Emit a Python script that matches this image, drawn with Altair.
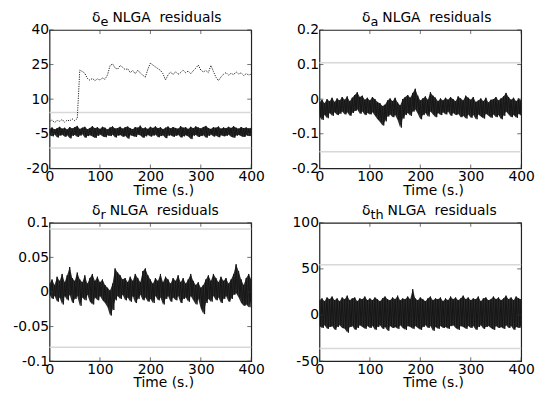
import altair as alt
import pandas as pd

# ---------------- data ----------------
TIME = list(range(0, 401, 5))          # sample grid, seconds
X_TICKS = [0, 100, 200, 300, 400]

# delta_e panel: solid residual band (upper / lower envelope) and dotted faulty residual
UPPER_E = [-2.9, -2.3, -3.1, -2.6, -2.0, -2.8, -2.4, -3.2, -2.1, -2.7,
           -2.2, -1.6, -2.9, -2.4, -2.0, -3.0, -2.5, -1.7, -2.6, -2.2,
           -2.9, -2.0, -2.4, -3.2, -2.3, -1.8, -2.7, -2.5, -2.0, -2.8,
           -2.2, -1.9, -2.6, -3.0, -2.1, -2.4, -1.5, -2.7, -2.3, -2.9,
           -2.0, -2.5, -1.8, -2.6, -2.2, -3.0, -2.4, -1.9, -2.7, -2.1,
           -2.5, -2.8, -1.7, -2.4, -2.2, -2.9, -2.0, -2.6, -1.8, -2.3,
           -2.7, -2.1, -1.6, -2.5, -2.9, -2.2, -2.4, -1.9, -2.8, -2.3,
           -2.6, -2.0, -2.5, -1.7, -2.4, -2.8, -2.1, -2.6, -2.3, -2.7,
           -2.4]
LOWER_E = [-5.6, -6.1, -5.3, -6.6, -5.8, -5.4, -6.3, -5.7, -7.0, -5.9,
           -5.5, -6.4, -5.8, -5.2, -6.7, -6.0, -5.6, -6.2, -6.8, -5.9,
           -5.3, -6.1, -6.5, -5.7, -6.0, -5.4, -6.6, -5.8, -5.5, -6.3,
           -5.9, -7.1, -5.6, -6.0, -6.4, -5.3, -5.8, -6.7, -6.1, -5.5,
           -6.2, -5.8, -5.4, -6.5, -6.0, -5.7, -6.9, -5.8, -5.6, -6.3,
           -5.9, -5.4, -6.6, -6.1, -5.7, -6.2, -7.3, -5.8, -5.5, -6.4,
           -6.0, -5.6, -6.7, -5.9, -5.3, -6.2, -5.8, -6.5, -5.6, -6.1,
           -5.9, -5.4, -6.3, -6.7, -5.8, -5.5, -6.1, -6.4, -5.7, -6.0,
           -5.8]
DOT_E = [0.3, 1.0, -0.2, 0.8, 0.4, 1.2, 0.0, 0.9, 0.6, 1.4,
         0.7, 1.6, 22.6, 22.0, 21.2, 19.0, 18.2, 19.0, 18.0, 18.8,
         18.3, 19.2, 18.6, 20.5, 24.5, 25.3, 23.5, 23.0, 24.6, 23.8,
         22.8, 23.2, 21.5, 22.4, 21.0, 22.6, 21.3, 20.4, 19.5, 23.0,
         25.6, 24.8, 24.0, 23.2, 22.5, 21.0, 18.3, 20.5, 21.8, 20.6,
         21.9, 20.8, 21.5, 22.6, 21.4, 22.2, 21.0, 22.3, 23.4, 24.8,
         22.6, 21.8, 22.4, 21.5, 24.6, 22.0, 19.5, 18.0, 19.6, 20.8,
         21.5, 20.4, 21.2, 20.6, 21.8, 20.9, 21.4, 20.3, 21.0, 20.5,
         20.8]
THR_E = [4.2, -11.2]

# delta_a panel
UPPER_A = [-0.010, -0.002, -0.012, 0.000, -0.006, 0.004, -0.008, 0.002, -0.004, 0.006,
           -0.002, 0.008, -0.006, 0.004, 0.012, 0.020, 0.006, 0.010, -0.002, 0.004,
           -0.004, 0.006, 0.000, -0.008, -0.012, -0.020, -0.016, -0.004, 0.002, -0.006,
           0.004, -0.010, -0.018, 0.000, 0.006, 0.012, 0.004, 0.018, 0.030, 0.010,
           -0.004, 0.002, 0.008, -0.002, 0.020, 0.010, 0.004, -0.006, 0.002, -0.004,
           0.004, -0.002, 0.006, 0.000, -0.006, 0.008, 0.002, -0.004, 0.010, 0.004,
           -0.002, 0.006, -0.008, -0.004, 0.002, -0.006, 0.004, -0.010, -0.002, 0.000,
           0.006, -0.004, 0.002, 0.008, 0.018, 0.006, -0.002, 0.004, -0.006, 0.002,
           -0.004]
LOWER_A = [-0.050, -0.060, -0.045, -0.055, -0.040, -0.048, -0.038, -0.046, -0.042, -0.036,
           -0.044, -0.038, -0.048, -0.040, -0.034, -0.030, -0.042, -0.036, -0.046, -0.040,
           -0.044, -0.038, -0.048, -0.058, -0.066, -0.076, -0.064, -0.050, -0.044, -0.052,
           -0.046, -0.060, -0.082, -0.056, -0.046, -0.040, -0.048, -0.036, -0.030, -0.042,
           -0.058, -0.046, -0.040, -0.050, -0.036, -0.044, -0.052, -0.040, -0.046, -0.038,
           -0.044, -0.036, -0.048, -0.040, -0.046, -0.042, -0.052, -0.048, -0.056, -0.044,
           -0.054, -0.046, -0.058, -0.044, -0.050, -0.056, -0.042, -0.048, -0.054, -0.044,
           -0.052, -0.046, -0.058, -0.048, -0.036, -0.044, -0.052, -0.046, -0.054, -0.042,
           -0.048]
THR_A = [0.105, -0.152]

# delta_r panel
UPPER_R = [0.012, 0.018, 0.010, 0.022, 0.016, 0.026, 0.014, 0.024, 0.036, 0.020,
           0.016, 0.028, 0.018, 0.014, 0.024, 0.012, 0.020, 0.026, 0.016, 0.022,
           0.014, 0.018, 0.010, 0.006, 0.002, 0.012, 0.034, 0.028, 0.024, 0.018,
           0.020, 0.014, 0.022, 0.016, 0.026, 0.020, 0.014, 0.030, 0.034, 0.024,
           0.018, 0.012, 0.020, 0.016, 0.026, 0.014, 0.022, 0.018, 0.012, 0.020,
           0.016, 0.024, 0.014, 0.020, 0.012, 0.018, 0.026, 0.016, 0.010, 0.014,
           0.006, 0.010, 0.018, 0.024, 0.016, 0.026, 0.020, 0.014, 0.022, 0.016,
           0.020, 0.012, 0.018, 0.026, 0.040, 0.030, 0.018, 0.010, 0.020, 0.026,
           0.018]
LOWER_R = [-0.004, -0.010, -0.006, -0.014, -0.008, -0.018, -0.006, -0.012, -0.004, -0.016,
           -0.010, -0.006, -0.020, -0.008, -0.012, -0.004, -0.014, -0.018, -0.008, -0.012,
           -0.006, -0.012, -0.016, -0.022, -0.034, -0.026, -0.012, -0.006, -0.010, -0.004,
           -0.012, -0.008, -0.014, -0.006, -0.016, -0.010, -0.004, -0.012, -0.008, -0.014,
           -0.010, -0.016, -0.006, -0.012, -0.008, -0.018, -0.010, -0.006, -0.014, -0.008,
           -0.012, -0.006, -0.016, -0.010, -0.008, -0.014, -0.006, -0.012, -0.018, -0.010,
           -0.024, -0.032, -0.016, -0.010, -0.014, -0.006, -0.012, -0.008, -0.016, -0.010,
           -0.006, -0.014, -0.010, -0.004, -0.002, -0.008, -0.016, -0.020, -0.018, -0.022,
           -0.012]
THR_R = [0.091, -0.080]

# delta_th panel
UPPER_TH = [16, 18, 15, 19, 17, 20, 16, 18, 15, 19,
            17, 21, 16, 18, 19, 15, 18, 17, 20, 16,
            18, 16, 19, 17, 15, 18, 20, 17, 16, 19,
            17, 21, 16, 18, 17, 20, 17, 28, 18, 16,
            19, 17, 15, 18, 20, 16, 18, 17, 19, 15,
            18, 16, 20, 17, 19, 16, 18, 21, 17, 19,
            16, 18, 17, 20, 15, 18, 19, 16, 17, 20,
            17, 19, 16, 18, 21, 17, 19, 16, 20, 18,
            17]
LOWER_TH = [-12, -14, -11, -15, -13, -12, -16, -13, -11, -14,
            -15, -19, -13, -12, -16, -14, -11, -13, -15, -12,
            -14, -12, -16, -13, -11, -15, -13, -17, -12, -14,
            -13, -15, -11, -14, -16, -12, -13, -15, -12, -14,
            -16, -13, -11, -14, -12, -17, -13, -15, -12, -14,
            -13, -15, -12, -11, -14, -16, -12, -13, -15, -12,
            -14, -12, -16, -13, -11, -15, -13, -12, -14, -16,
            -12, -14, -13, -15, -11, -14, -12, -16, -13, -14,
            -12]
THR_TH = [54.6, -36.2]

TITLE_REST = "NLGA\u00a0\u00a0residuals"
FONT = "DejaVu Sans"
W, H = 204, 140
BAND_COLOR = "#161616"


def zigzag(upper, lower):
    rows = []
    for i, (u, l) in enumerate(zip(upper, lower)):
        rows.append({"t": TIME[i], "v": u})
        if i < len(TIME) - 1:
            rows.append({"t": TIME[i] + 2.5, "v": l})
    return pd.DataFrame(rows)


def text_piece(s, x, y, size):
    return alt.Chart(pd.DataFrame({"s": [s]})).mark_text(
        font=FONT, fontSize=size, align="left", baseline="alphabetic", color="black"
    ).encode(text="s:N", x=alt.value(x), y=alt.value(y))


def panel(sub, sub_w, y_domain, y_ticks, thr, upper, lower, dotted=None):
    xs = alt.Scale(domain=[0, 400], nice=False)
    ys = alt.Scale(domain=y_domain, nice=False, zero=False)
    x_axis = alt.Axis(values=X_TICKS, title="Time (s.)", grid=False, ticks=False, tickSize=0,
                      domain=False, labelFont=FONT, labelFontSize=14, labelColor="black",
                      labelPadding=1, labelFlush=False, labelOverlap=False,
                      titleFont=FONT, titleFontSize=14,
                      titleFontWeight=400, titleColor="black", titleX=W / 2 + 13,
                      titleY=26, titleBaseline="alphabetic")
    y_axis = alt.Axis(values=y_ticks, title=None, grid=False, ticks=False, tickSize=0,
                      domain=False, labelFont=FONT, labelFontSize=14, labelColor="black",
                      labelPadding=1, labelFlush=False, labelOverlap=False,
                      labelExpr="'' + datum.value",
                      minExtent=41, maxExtent=41)

    def X(field):
        return alt.X(field, scale=xs, axis=x_axis, title="Time (s.)")

    def Y(field):
        return alt.Y(field, scale=ys, axis=y_axis, title=None)

    thr_df = pd.DataFrame({"v": thr})
    rules = alt.Chart(thr_df).mark_rule(color="#d8d8d8", strokeWidth=1.5).encode(y=Y("v:Q"))

    env_df = pd.DataFrame({"t": TIME, "hi": upper, "lo": lower})
    area = alt.Chart(env_df).mark_area(color=BAND_COLOR, opacity=0.9, clip=True).encode(
        x=X("t:Q"), y=Y("hi:Q"), y2="lo:Q")
    band = alt.Chart(zigzag(upper, lower)).mark_line(
        color=BAND_COLOR, strokeWidth=1, clip=True).encode(x=X("t:Q"), y=Y("v:Q"))
    layers = [rules, area, band]
    if dotted is not None:
        dot_df = pd.DataFrame({"t": TIME, "v": dotted})
        layers.append(alt.Chart(dot_df).mark_line(
            color="#222222", strokeWidth=1, strokeDash=[1.2, 1.2], clip=True).encode(
            x=X("t:Q"), y=Y("v:Q")))

    # MATLAB-style inward tick marks on all four sides
    xt = pd.DataFrame({"t": X_TICKS})
    yt = pd.DataFrame({"v": y_ticks})
    for yy in (2, H - 2):
        layers.append(alt.Chart(xt).mark_tick(color="#333333", thickness=1, size=4).encode(
            x=X("t:Q"), y=alt.value(yy)))
    for xx in (2, W - 2):
        layers.append(alt.Chart(yt).mark_tick(color="#333333", thickness=1, size=4).encode(
            y=Y("v:Q"), x=alt.value(xx)))

    # panel title: delta with a lowered subscript, then "NLGA  residuals"
    x0 = 43
    layers.append(text_piece("δ", x0, -8, 14))
    layers.append(text_piece(sub, x0 + 8.6, -4, 13))
    layers.append(text_piece(TITLE_REST, x0 + 8.6 + sub_w + 4, -8, 14))

    return alt.layer(*layers).properties(width=W, height=H)


p1 = panel("e", 8.0, [-20, 40], [-20, -5, 10, 25, 40], THR_E, UPPER_E, LOWER_E, DOT_E)
p2 = panel("a", 8.0, [-0.2, 0.2], [-0.2, -0.1, 0, 0.1, 0.2], THR_A, UPPER_A, LOWER_A)
p3 = panel("r", 5.3, [-0.1, 0.1], [-0.1, -0.05, 0, 0.05, 0.1], THR_R, UPPER_R, LOWER_R)
p4 = panel("th", 13.3, [-50, 100], [-50, 0, 50, 100], THR_TH, UPPER_TH, LOWER_TH)

chart = alt.concat(p1, p2, p3, p4, columns=2, spacing={"row": 5, "column": 13}).properties(
    padding=0, background="white"
).configure_view(stroke="#222222", strokeWidth=1.2
).configure_axis(titleFontWeight="normal")

chart.save("out.html", embed_options={"renderer": "svg", "actions": False})
